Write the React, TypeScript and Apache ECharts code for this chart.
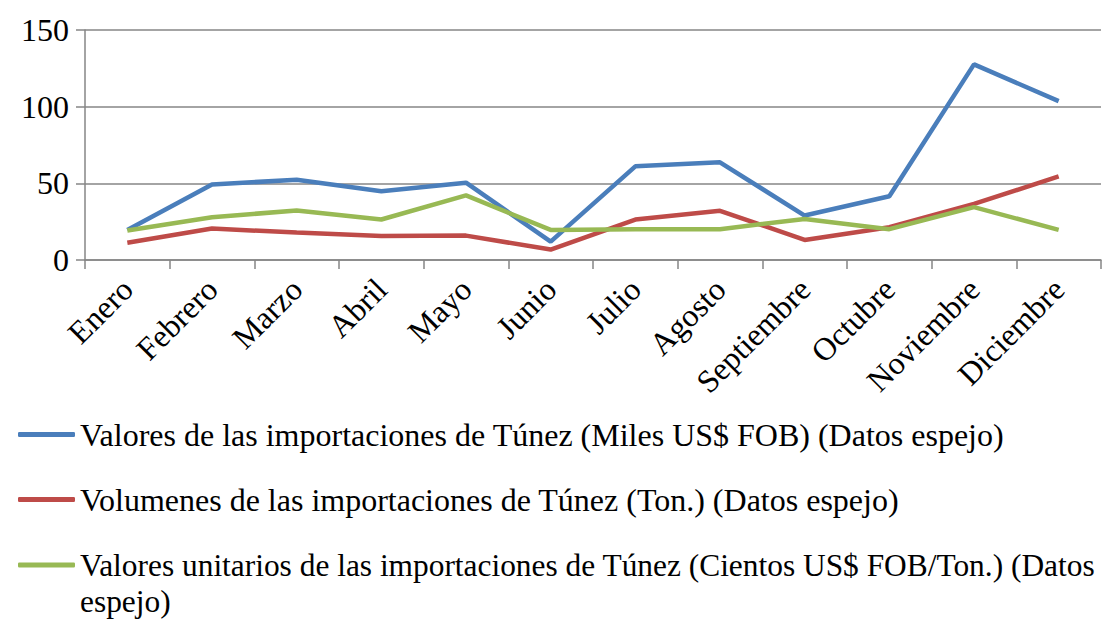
import React, { useEffect, useRef } from "react";
import * as echarts from "echarts";

const months = ["Enero", "Febrero", "Marzo", "Abril", "Mayo", "Junio", "Julio", "Agosto", "Septiembre", "Octubre", "Noviembre", "Diciembre"];
const seriesNames = [
  "Valores de las importaciones de Túnez (Miles US$ FOB) (Datos espejo)",
  "Volumenes de las importaciones de Túnez (Ton.) (Datos espejo)",
  "Valores unitarios de las importaciones de Túnez (Cientos US$ FOB/Ton.) (Datos espejo)",
];
const valores = [19.6, 49.3, 52.3, 44.9, 50.4, 12.0, 61.1, 63.7, 29.0, 41.6, 127.6, 103.6];
const volumenes = [11.3, 20.5, 17.9, 15.7, 15.9, 6.8, 26.4, 32.1, 13.1, 21.4, 36.6, 54.5];
const unitarios = [19.2, 27.9, 32.3, 26.4, 42.1, 19.6, 20.1, 20.1, 26.8, 20.1, 34.5, 19.6];
const yTicks = { min: 0, max: 150, interval: 50 };
const colors = ["#4A7EBB", "#BE4B48", "#98B954"];

const FONT = "'Liberation Serif', 'Times New Roman', serif";
const FS = 32;

export default function App() {
  const ref = useRef<HTMLDivElement>(null);
  useEffect(() => {
    if (!ref.current) return;
    const chart = echarts.init(ref.current, undefined, { renderer: "svg" });
    const data = [valores, volumenes, unitarios];
    const legendText = { fontFamily: FONT, fontSize: FS, color: "#000", lineHeight: 37 };
    chart.setOption({
      animation: false,
      textStyle: { fontFamily: FONT },
      grid: { left: 85, right: 14, top: 30, bottom: 361, containLabel: false },
      xAxis: {
        type: "category",
        data: months,
        boundaryGap: true,
        axisLine: { lineStyle: { color: "#868686", width: 1.5 } },
        axisTick: { show: true, length: 9, lineStyle: { color: "#868686", width: 1.5 } },
        axisLabel: {
          rotate: 45,
          interval: 0,
          fontFamily: FONT,
          fontSize: FS,
          color: "#000",
          margin: 24,
          padding: [18, 0, 0, 0],
        },
      },
      yAxis: {
        type: "value",
        min: yTicks.min,
        max: yTicks.max,
        interval: yTicks.interval,
        axisLine: { show: true, lineStyle: { color: "#868686", width: 1.5 } },
        axisTick: { show: true, length: 9, lineStyle: { color: "#868686", width: 1.5 } },
        splitLine: { show: true, lineStyle: { color: "#868686", width: 1.5 } },
        axisLabel: { fontFamily: FONT, fontSize: FS, color: "#000", margin: 16 },
      },
      legend: [
        {
          orient: "vertical",
          left: 18,
          top: 416,
          padding: 0,
          itemGap: 28,
          itemWidth: 57,
          itemHeight: 5,
          data: [
            { name: seriesNames[0], icon: "roundRect" },
            { name: seriesNames[1], icon: "roundRect" },
          ],
          textStyle: legendText,
        },
        {
          orient: "vertical",
          left: 18,
          top: 511,
          padding: 0,
          itemWidth: 57,
          itemHeight: 5,
          data: [{ name: seriesNames[2], icon: "roundRect" }],
          formatter: (name: string) => "\n" + name.replace(" espejo)", "\nespejo)"),
          textStyle: { ...legendText, fontSize: 31.4, lineHeight: 36 },
        },
      ],
      series: seriesNames.map((name, i) => ({
        name,
        type: "line",
        data: data[i],
        symbol: "none",
        color: colors[i],
        lineStyle: { color: colors[i], width: 4.5 },
        itemStyle: { color: colors[i] },
      })),
    });
    return () => chart.dispose();
  }, []);
  return (
    <div
      ref={ref}
      style={{ position: "absolute", left: 0, top: 0, width: 1115, height: 621 }}
    />
  );
}
